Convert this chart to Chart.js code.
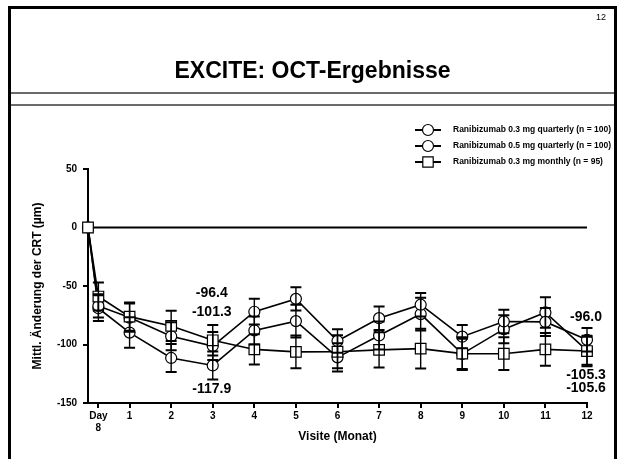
<!DOCTYPE html>
<html><head><meta charset="utf-8">
<script src="https://cdn.jsdelivr.net/npm/chart.js@4"></script>
<style>
html,body{margin:0;padding:0;background:#fff;}
#wrap{position:relative;width:619px;height:459px;overflow:hidden;font-family:"Liberation Sans",Arial,sans-serif;color:#000;}
#c{position:absolute;left:0;top:0;}
.fl{position:absolute;background:#000;}
</style></head><body>
<div id="wrap">
<canvas id="c" width="619" height="459"></canvas>
<div class="fl" style="left:8px;top:6px;width:3px;height:453px"></div>
<div class="fl" style="left:8px;top:6px;width:609px;height:3px"></div>
<div class="fl" style="left:614px;top:6px;width:3px;height:453px"></div>
<div class="fl" style="left:11px;top:92px;width:603px;height:2px;background:#6b6b6b"></div>
<div class="fl" style="left:11px;top:104px;width:603px;height:2px;background:#6b6b6b"></div>
<div style="position:absolute;left:11px;width:603px;top:57px;line-height:26px;text-align:center;font-weight:bold;font-size:23px;">EXCITE: OCT-Ergebnisse</div>
<div style="position:absolute;left:596px;top:12px;font-size:9px;line-height:10px">12</div>
</div>
<script>
// ---- data ----
const xValues = [0, 0.25, 1, 2, 3, 4, 5, 6, 7, 8, 9, 10, 11, 12];
const xTickValues = [0.25, 1, 2, 3, 4, 5, 6, 7, 8, 9, 10, 11, 12];
const xTickLabels = [['Day', '8'], '1', '2', '3', '4', '5', '6', '7', '8', '9', '10', '11', '12'];
const yTickValues = [-150, -100, -50, 0, 50];
const seriesLabels = [
  'Ranibizumab 0.3 mg quarterly (n = 100)',
  'Ranibizumab 0.5 mg quarterly (n = 100)',
  'Ranibizumab 0.3 mg monthly (n = 95)'
];
const q03Values = [0, -67, -77, -93, -101.3, -72, -61, -97, -77.5, -66, -93.3, -80.3, -80.7, -96.0];
const q05Values = [0, -69, -89.8, -111.5, -117.9, -88, -80, -111, -92.3, -74, -108, -86.9, -72.6, -105.3];
const m03Values = [0, -59, -76.2, -84.1, -96.4, -104.2, -106.3, -106.2, -104.6, -103.5, -107.8, -107.9, -104.2, -105.6];
const q03Err = [0, 10, 12, 12, 12, 11, 10, 10, 10, 10, 10, 10, 12, 10];
const q05Err = [0, 11, 13, 12, 12, 12, 14, 12, 12, 14, 13, 12, 13, 12];
const m03Err = [0, 12, 12, 13, 13, 13, 14, 14, 15, 17, 14, 14, 14, 13];
const xTitle = 'Visite (Monat)';
const yTitle = 'Mittl. Änderung der CRT (µm)';

// ---- drawing ----
const F = '"Liberation Sans", Arial, sans-serif';
const allValues = [q03Values, q05Values, m03Values];
const allErr = [q03Err, q05Err, m03Err];
const styles = ['circle', 'circle', 'rect'];

function mkDs(i, order) {
  return {
    label: seriesLabels[i],
    data: xValues.map((x, j) => ({x: x, y: allValues[i][j]})),
    borderColor: '#000', borderWidth: 1.6, tension: 0,
    pointStyle: styles[i], pointRadius: styles[i] === 'rect' ? 7.5 : 5.5,
    pointBackgroundColor: '#fff', pointBorderColor: '#000', pointBorderWidth: 1.2,
    clip: false, order: order, fill: false
  };
}

const zeroLine = {
  id: 'zeroLine',
  beforeDatasetsDraw(chart) {
    const {ctx, scales: {x, y}} = chart;
    const py = y.getPixelForValue(0);
    ctx.save(); ctx.strokeStyle = '#000'; ctx.lineWidth = 2;
    ctx.beginPath(); ctx.moveTo(x.getPixelForValue(0), py); ctx.lineTo(x.getPixelForValue(12), py); ctx.stroke();
    ctx.restore();
  }
};

const errorBars = {
  id: 'errorBars',
  afterDatasetsDraw(chart) {
    const {ctx, scales: {x, y}} = chart;
    ctx.save(); ctx.strokeStyle = '#000';
    allValues.forEach((vals, i) => {
      vals.forEach((v, j) => {
        const e = allErr[i][j];
        if (!e) return;
        const px = x.getPixelForValue(xValues[j]);
        const t = y.getPixelForValue(v + e), b = y.getPixelForValue(v - e);
        ctx.lineWidth = 1.4;
        ctx.beginPath(); ctx.moveTo(px, t); ctx.lineTo(px, b); ctx.stroke();
        ctx.lineWidth = 2;
        ctx.beginPath(); ctx.moveTo(px - 5.5, t); ctx.lineTo(px + 5.5, t);
        ctx.moveTo(px - 5.5, b); ctx.lineTo(px + 5.5, b); ctx.stroke();
      });
    });
    ctx.restore();
  }
};

const annotations = {
  id: 'annots',
  afterDraw(chart) {
    const {ctx, scales: {x, y}} = chart;
    const items = [
      {m: 3, s: 2, at: -56}, {m: 3, s: 0, at: -72.4}, {m: 3, s: 1, at: -138},
      {m: 12, s: 0, at: -76.4}, {m: 12, s: 1, at: -126}, {m: 12, s: 2, at: -137.6}
    ];
    ctx.save(); ctx.fillStyle = '#000'; ctx.font = 'bold 14px ' + F;
    ctx.textAlign = 'center'; ctx.textBaseline = 'middle';
    items.forEach(it => {
      const j = xValues.indexOf(it.m);
      ctx.fillText(allValues[it.s][j].toFixed(1), x.getPixelForValue(it.m) - 1, y.getPixelForValue(it.at));
    });
    ctx.restore();
  }
};

const legendPlugin = {
  id: 'customLegend',
  afterDraw(chart) {
    const ctx = chart.ctx;
    ctx.save();
    seriesLabels.forEach((lab, i) => {
      const yy = 130 + i * 16;
      ctx.strokeStyle = '#000'; ctx.lineWidth = 2;
      ctx.beginPath(); ctx.moveTo(415, yy); ctx.lineTo(441, yy); ctx.stroke();
      ctx.lineWidth = 1.2; ctx.fillStyle = '#fff';
      ctx.beginPath();
      if (styles[i] === 'rect') ctx.rect(428 - 5.2, yy - 5.2, 10.4, 10.4);
      else ctx.arc(428, yy, 5.5, 0, Math.PI * 2);
      ctx.fill(); ctx.stroke();
      ctx.fillStyle = '#000'; ctx.font = 'bold 8.5px ' + F;
      ctx.textAlign = 'left'; ctx.textBaseline = 'middle';
      ctx.fillText(lab, 453, yy);
    });
    ctx.restore();
  }
};

new Chart(document.getElementById('c'), {
  type: 'line',
  data: {datasets: [mkDs(0, 1), mkDs(1, 2), mkDs(2, 0)]},
  plugins: [zeroLine, errorBars, annotations, legendPlugin],
  options: {
    responsive: false, animation: false, devicePixelRatio: 1,
    layout: {padding: {left: 0, right: 32, top: 169, bottom: 0}},
    plugins: {legend: {display: false}, tooltip: {enabled: false}},
    scales: {
      x: {
        type: 'linear', min: 0, max: 12,
        afterBuildTicks: s => { s.ticks = xTickValues.map(v => ({value: v})); },
        afterFit: s => { s.height = 56; },
        ticks: {autoSkip: false, maxRotation: 0, padding: 2, color: '#000',
          font: {family: F, size: 10, weight: 'bold', lineHeight: 1.2},
          callback: (v, i) => xTickLabels[i]},
        grid: {display: true, drawOnChartArea: false, drawTicks: true, tickLength: 5, color: '#000', lineWidth: 2},
        border: {display: true, color: '#000', width: 2},
        title: {display: true, text: xTitle, color: '#000',
          font: {family: F, size: 12, weight: 'bold', lineHeight: 1.2}, padding: {top: 0, bottom: 15}}
      },
      y: {
        type: 'linear', min: -150, max: 50,
        afterBuildTicks: s => { s.ticks = yTickValues.map(v => ({value: v})); },
        afterFit: s => { s.width = 88; },
        ticks: {padding: 6, color: '#000', font: {family: F, size: 10, weight: 'bold'}},
        grid: {display: true, drawOnChartArea: false, drawTicks: true, tickLength: 5, color: '#000', lineWidth: 2},
        border: {display: true, color: '#000', width: 2},
        title: {display: true, text: yTitle, color: '#000',
          font: {family: F, size: 12, weight: 'bold', lineHeight: 1.2}, padding: {top: 30, bottom: 0}}
      }
    }
  }
});
</script>
</body></html>
